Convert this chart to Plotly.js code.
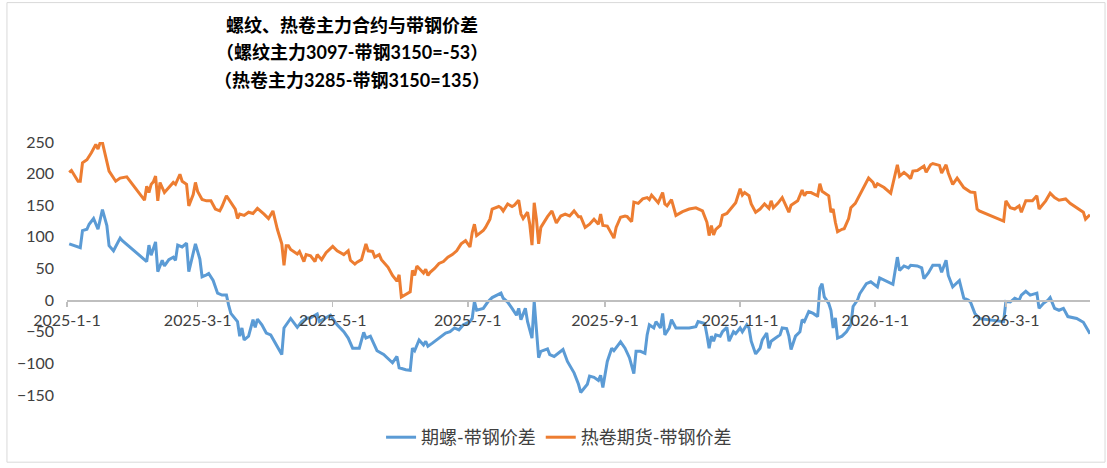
<!DOCTYPE html>
<html>
<head>
<meta charset="utf-8">
<script src="https://cdn.plot.ly/plotly-3.0.1.min.js"></script>
<style>html,body{margin:0;padding:0;background:#fff;}#chart{width:1107px;height:468px;}</style>
</head>
<body>
<div id="chart"></div>
<script>
// Trading days are given as day offsets from 2025-01-01.
const seriesNames = ['期螺-带钢价差', '热卷期货-带钢价差'];
const titleLines = ['螺纹、热卷主力合约与带钢价差', '（螺纹主力3097-带钢3150=-53）', '（热卷主力3285-带钢3150=135）'];
const tickStart = '2025-01-01';

const rebarDays = [1,6,7,9,10,12,14,16,18,19,21,24,25,36,37,38,40,41,43,44,46,48,49,50,52,54,55,58,60,61,63,64,66,68,70,72,73,74,77,78,79,80,82,84,85,86,88,90,92,95,97,98,101,104,106,108,110,113,114,119,122,125,127,129,132,134,135,137,140,143,147,149,150,153,155,156,157,159,161,162,163,165,168,171,173,175,177,179,182,183,184,185,188,190,192,194,196,197,199,201,202,203,204,205,207,208,210,211,213,214,217,218,220,224,226,229,231,232,235,236,238,240,241,242,244,246,247,250,252,254,256,257,259,261,262,263,265,266,268,269,270,272,273,275,281,284,285,288,289,290,291,292,293,295,296,298,299,301,302,304,305,307,308,309,311,313,314,316,317,318,320,322,323,325,326,327,329,331,332,333,335,337,339,340,341,342,344,345,346,347,348,350,352,354,355,357,358,361,363,366,367,370,373,375,376,378,380,381,384,386,387,389,391,394,395,397,398,400,403,405,407,408,410,412,423,424,426,428,430,431,433,435,438,439,441,443,444,446,448,450,452,456,459,462];
const rebarSpread = [89,83,110,112,120,129,112,143,118,86,78,98,94,61,87,71,92,45,63,54,64,68,63,87,84,90,45,89,65,37,40,42,31,11,8,8,-8,-21,-34,-57,-44,-63,-57,-31,-43,-30,-39,-52,-55,-73,-86,-44,-29,-43,-34,-29,-28,-22,-34,-24,-39,-50,-60,-76,-76,-51,-60,-57,-80,-86,-99,-89,-107,-110,-111,-76,-80,-63,-71,-65,-73,-68,-60,-52,-50,-44,-47,-39,-34,-29,-2,-16,-13,-3,4,8,11,3,-3,-13,-18,-24,-13,-31,-13,-34,-60,-2,-91,-81,-77,-86,-89,-78,-97,-115,-133,-146,-133,-120,-122,-127,-119,-138,-97,-76,-80,-66,-76,-91,-116,-81,-81,-84,-55,-39,-44,-34,-44,-21,-55,-44,-31,-44,-44,-42,-34,-37,-55,-76,-57,-65,-55,-57,-50,-43,-65,-50,-53,-44,-50,-39,-44,-65,-85,-76,-63,-52,-76,-65,-60,-55,-44,-45,-57,-78,-57,-50,-31,-34,-18,-21,-26,19,26,5,-5,-16,-44,-28,-60,-57,-50,-39,-10,0,10,26,29,21,35,30,25,68,47,54,51,55,54,51,34,43,55,55,44,63,39,21,31,3,0,-3,-21,-29,-34,-2,-3,3,0,8,14,8,11,-13,-5,0,4,-13,-16,-13,-26,-29,-35,-53];

const coilDays = [1,2,5,6,7,9,11,13,14,15,16,18,19,22,24,27,35,36,37,38,39,40,41,42,44,46,48,49,51,52,54,55,57,58,59,61,63,65,67,69,70,72,74,76,77,78,80,82,84,86,89,91,93,95,97,98,99,100,101,104,105,107,108,110,112,113,115,117,120,122,125,127,128,130,131,133,135,136,138,139,141,142,145,147,149,150,151,153,155,156,157,158,159,161,162,163,164,166,168,170,172,174,176,178,180,182,183,184,185,188,189,191,192,195,196,197,199,201,202,204,205,206,208,209,210,211,212,213,214,217,219,221,223,225,227,229,231,232,234,236,238,240,241,242,244,245,247,248,250,252,253,255,256,258,260,262,263,264,266,267,269,270,271,273,275,278,281,284,287,289,290,291,292,293,295,296,298,300,302,304,305,306,308,309,311,313,315,317,318,319,321,323,325,326,327,330,332,333,334,336,339,340,341,344,345,346,347,348,350,351,353,354,356,358,360,362,364,365,366,369,372,375,376,378,380,381,382,384,387,388,390,391,394,395,397,398,400,402,405,407,408,410,411,412,423,424,426,428,430,431,433,436,438,439,442,444,446,448,451,453,456,459,460,462];
const coilSpread = [202,205,188,188,217,222,233,246,239,249,249,222,204,188,193,195,158,180,170,183,187,196,157,186,170,178,186,183,199,188,183,149,167,186,172,159,157,157,144,141,148,165,155,144,129,136,134,139,137,145,136,129,141,112,89,55,86,86,80,73,77,61,72,70,61,72,64,75,85,78,72,78,63,57,60,64,89,78,77,68,72,64,52,39,30,40,5,9,13,47,39,54,50,43,49,39,44,50,58,61,68,72,78,89,94,84,107,120,102,110,115,128,144,148,146,141,152,148,150,158,136,129,139,120,87,154,128,89,115,132,141,122,133,136,133,141,132,132,115,120,128,120,136,118,117,110,98,115,131,133,132,124,155,153,160,162,159,166,157,154,170,152,149,159,134,140,144,146,141,123,102,118,103,112,118,134,137,146,154,176,166,170,165,152,139,144,152,145,157,146,153,162,146,139,150,157,174,165,170,170,165,184,172,165,139,144,123,108,112,113,129,146,153,166,178,193,186,178,184,178,169,214,196,202,196,192,204,205,212,202,214,216,213,201,214,201,183,193,178,174,171,170,144,141,125,157,146,144,149,139,157,157,165,144,157,169,162,158,160,153,146,139,128,135];

function toDate(d) {
  const t = new Date(Date.UTC(2025, 0, 1) + d * 86400000);
  return t.toISOString().slice(0, 10);
}

const latin = "Lato, 'Noto Sans CJK SC', sans-serif";
const traces = [
  {x: rebarDays.map(toDate), y: rebarSpread, name: seriesNames[0], type: 'scatter', mode: 'lines',
   line: {color: '#5B9BD5', width: 3}},
  {x: coilDays.map(toDate), y: coilSpread, name: seriesNames[1], type: 'scatter', mode: 'lines',
   line: {color: '#ED7D31', width: 3}}
];

const titleY = [1.461, 1.355, 1.246];
const annotations = titleLines.map((t, i) => ({
  text: '<b>' + t + '</b>', xref: 'paper', yref: 'paper', x: 0.279, y: titleY[i],
  xanchor: 'center', yanchor: 'middle', showarrow: false,
  font: {family: latin, size: 18, color: '#000000'}
}));

const layout = {
  width: 1107, height: 468,
  margin: {l: 67, r: 17, t: 142, b: 70},
  paper_bgcolor: '#ffffff', plot_bgcolor: '#ffffff',
  showlegend: true,
  legend: {orientation: 'h', x: 0.481, xanchor: 'center', y: -0.168, yanchor: 'middle',
           font: {family: latin, size: 18, color: '#404040'}, itemwidth: 30},
  xaxis: {type: 'date', range: [toDate(0), toDate(462)], tick0: tickStart, dtick: 'M2',
          tickformat: '%Y-%-m-%-d', showgrid: false, zeroline: false,
          showline: true, linecolor: '#bfbfbf', linewidth: 1.5,
          ticks: 'outside', ticklen: 5, tickcolor: '#bfbfbf', tickwidth: 1.5,
          anchor: 'free', position: 0.375,
          tickfont: {family: latin, size: 16, color: '#404040'}},
  yaxis: {range: [-150, 250], tick0: 0, dtick: 50, showgrid: false, zeroline: false,
          showline: false, ticks: '', ticklabelstandoff: 12,
          tickfont: {family: latin, size: 16, color: '#404040'}},
  annotations: annotations,
  shapes: [{type: 'rect', xref: 'paper', yref: 'paper', x0: -0.0587, x1: 1.0147, y0: -0.2656, y1: 1.551,
            line: {color: '#d9d9d9', width: 1}, fillcolor: 'rgba(0,0,0,0)', layer: 'below'}]
};

Plotly.newPlot('chart', traces, layout, {displayModeBar: false, staticPlot: true});
</script>
</body>
</html>
